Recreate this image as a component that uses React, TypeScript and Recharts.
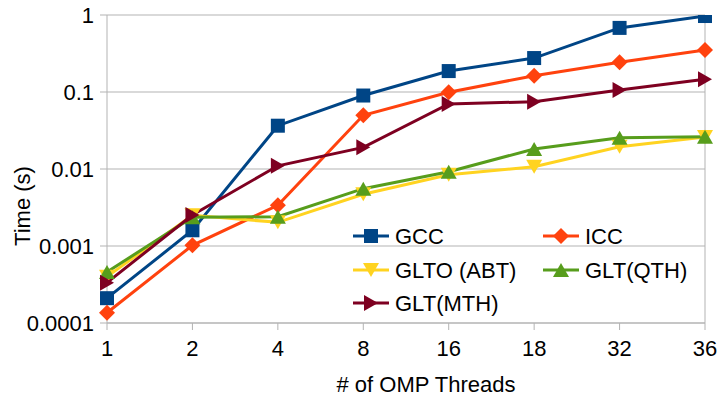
import React from "react";
import {
  LineChart,
  Line,
  XAxis,
  YAxis,
  CartesianGrid,
  ReferenceLine,
  Label,
} from "recharts";

const threads = ["1", "2", "4", "8", "16", "18", "32", "36"];
const gcc = [0.00021, 0.0016, 0.0365, 0.09, 0.187, 0.276, 0.68, 0.97];
const icc = [0.000136, 0.00102, 0.00338, 0.0498, 0.099, 0.163, 0.243, 0.351];
const gltoAbt = [0.0004, 0.0025, 0.00203, 0.0047, 0.0084, 0.0107, 0.0195, 0.026];
const gltQth = [0.00046, 0.00236, 0.0024, 0.00555, 0.0092, 0.0182, 0.0255, 0.0262];
const gltMth = [0.000334, 0.00253, 0.011, 0.0191, 0.0698, 0.0748, 0.106, 0.146];
const yTicks = [0.0001, 0.001, 0.01, 0.1, 1];

type Shape = "square" | "diamond" | "down" | "up" | "right";

const series: { key: string; name: string; color: string; shape: Shape; values: number[] }[] = [
  { key: "gcc", name: "GCC", color: "#004586", shape: "square", values: gcc },
  { key: "icc", name: "ICC", color: "#ff420e", shape: "diamond", values: icc },
  { key: "abt", name: "GLTO (ABT)", color: "#ffd320", shape: "down", values: gltoAbt },
  { key: "qth", name: "GLT(QTH)", color: "#579d1c", shape: "up", values: gltQth },
  { key: "mth", name: "GLT(MTH)", color: "#7e0021", shape: "right", values: gltMth },
];

const data = threads.map((t, i) => {
  const row: Record<string, string | number> = { threads: t };
  series.forEach((s) => {
    row[s.key] = s.values[i];
  });
  return row;
});

const FONT = "'Liberation Sans', Arial, sans-serif";
const GRID = "#b3b3b3";

function Marker({ cx, cy, shape, color }: { cx: number; cy: number; shape: Shape; color: string }) {
  const r = 7;
  switch (shape) {
    case "square":
      return <rect x={cx - r} y={cy - r} width={r * 2} height={r * 2} fill={color} />;
    case "diamond":
      return (
        <polygon
          points={`${cx},${cy - 8} ${cx + 8},${cy} ${cx},${cy + 8} ${cx - 8},${cy}`}
          fill={color}
        />
      );
    case "down":
      return (
        <polygon points={`${cx - 8},${cy - 7} ${cx + 8},${cy - 7} ${cx},${cy + 7}`} fill={color} />
      );
    case "up":
      return (
        <polygon points={`${cx - 8},${cy + 7} ${cx + 8},${cy + 7} ${cx},${cy - 7}`} fill={color} />
      );
    default:
      return (
        <polygon points={`${cx - 7},${cy - 8} ${cx - 7},${cy + 8} ${cx + 7},${cy}`} fill={color} />
      );
  }
}

const makeDot = (shape: Shape, color: string) => (props: any) => {
  const { cx, cy, index } = props;
  if (cx == null || cy == null) return <g key={`d-${index}`} />;
  return (
    <g key={`d-${index}`}>
      <Marker cx={cx} cy={cy} shape={shape} color={color} />
    </g>
  );
};

// legend drawn as an overlay so it doesn't shrink the plot area
const LegendBox = () => {
  const colX = [0, 190];
  const rowY = [14, 48, 81];
  return (
    <svg width={370} height={100} style={{ overflow: "visible", display: "block" }}>
      {series.map((s, i) => {
        const x = colX[i % 2];
        const y = rowY[Math.floor(i / 2)];
        return (
          <g key={s.key}>
            <line x1={x + 8} x2={x + 44} y1={y} y2={y} stroke={s.color} strokeWidth={3} />
            <Marker cx={x + 26} cy={y} shape={s.shape} color={s.color} />
            <text x={x + 50} y={y + 8} fontSize={22} fontFamily={FONT} fill="#000">
              {s.name}
            </text>
          </g>
        );
      })}
    </svg>
  );
};

const YTitle = (props: any) => {
  const { viewBox } = props;
  const x = 30;
  const y = viewBox.y + viewBox.height / 2 + 37;
  return (
    <text
      x={x}
      y={y}
      transform={`rotate(-90, ${x}, ${y})`}
      textAnchor="middle"
      fontSize={22}
      fontFamily={FONT}
      fill="#000"
    >
      Time (s)
    </text>
  );
};

const XTitle = (props: any) => {
  const { viewBox } = props;
  const x = viewBox.x + viewBox.width / 2 + 20;
  const y = viewBox.y + 69;
  return (
    <text x={x} y={y} textAnchor="middle" fontSize={22} fontFamily={FONT} fill="#000">
      # of OMP Threads
    </text>
  );
};

export default function App() {
  return (
    <div style={{ position: "absolute", left: 0, top: 0, width: 722, height: 402, background: "#fff" }}>
      <LineChart
        width={722}
        height={402}
        data={data}
        margin={{ top: 15, right: 17, left: 0, bottom: 0 }}
        style={{ fontFamily: FONT }}
      >
        <CartesianGrid stroke={GRID} vertical={false} />
        <XAxis
          dataKey="threads"
          height={79}
          tick={{ fill: "#000", fontSize: 22, fontFamily: FONT }}
          tickSize={7}
          tickMargin={10}
          axisLine={{ stroke: GRID }}
          tickLine={{ stroke: GRID }}
          interval={0}
        >
          <Label content={<XTitle />} />
        </XAxis>
        <YAxis
          scale="log"
          domain={[0.0001, 1]}
          ticks={yTicks}
          allowDataOverflow
          width={107}
          tick={{ fill: "#000", fontSize: 22, fontFamily: FONT }}
          tickSize={7}
          tickMargin={6}
          axisLine={{ stroke: GRID }}
          tickLine={{ stroke: GRID }}
          tickFormatter={(v: number) => String(v)}
          interval={0}
        >
          <Label content={<YTitle />} />
        </YAxis>
        <ReferenceLine x="36" stroke={GRID} />
        {series.map((s) => (
          <Line
            key={s.key}
            dataKey={s.key}
            name={s.name}
            stroke={s.color}
            strokeWidth={3}
            type="linear"
            dot={makeDot(s.shape, s.color)}
            activeDot={false}
            isAnimationActive={false}
          />
        ))}
      </LineChart>
      <div style={{ position: "absolute", left: 345, top: 222 }}>
        <LegendBox />
      </div>
    </div>
  );
}
